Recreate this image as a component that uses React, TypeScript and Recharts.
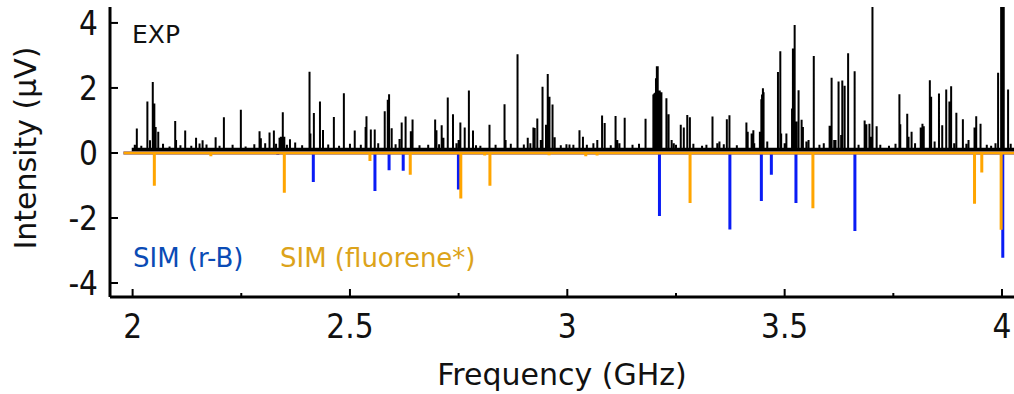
import { LineChart, Line, XAxis, YAxis, Label } from "recharts";

// experimental spectrum: [frequency GHz, intensity uV]
const expPeaks: [number, number][] = [
  [2.0097, 0.75], [2.034, 1.58], [2.04, 0.39], [2.0464, 2.18], [2.05, 1.52], [2.053, 0.8],
  [2.059, 0.65], [2.098, 0.98], [2.1, 0.4], [2.121, 0.69], [2.146, 0.47], [2.154, 0.29],
  [2.161, 0.39], [2.191, 0.48], [2.21, 1.1], [2.249, 1.33], [2.292, 0.67], [2.295, 0.45],
  [2.315, 0.63], [2.325, 0.69], [2.338, 0.47], [2.341, 0.5], [2.3455, 1.25], [2.349, 0.5],
  [2.362, 0.42], [2.374, 0.32], [2.407, 2.5], [2.409, 0.6], [2.417, 1.23], [2.431, 1.58],
  [2.438, 0.71], [2.463, 1.11], [2.486, 1.84], [2.511, 0.69], [2.536, 0.8], [2.538, 1.13],
  [2.548, 0.72], [2.557, 0.72], [2.58, 1.28], [2.587, 1.64], [2.59, 1.81], [2.596, 0.76],
  [2.614, 0.43], [2.619, 0.94], [2.628, 1.12], [2.64, 0.67], [2.644, 1.03], [2.696, 1.03],
  [2.699, 0.7], [2.711, 0.85], [2.715, 0.47], [2.725, 1.71], [2.737, 1.19], [2.75, 0.4],
  [2.754, 0.94], [2.764, 0.78], [2.7736, 1.92], [2.783, 0.69], [2.821, 0.87], [2.8556, 1.5],
  [2.858, 0.4], [2.8855, 3.04], [2.909, 0.47], [2.922, 0.78], [2.925, 0.77], [2.931, 1.06],
  [2.939, 0.4], [2.943, 2.04], [2.951, 0.87], [2.955, 2.43], [2.959, 1.73], [2.966, 1.49],
  [2.971, 0.48], [2.998, 0.27], [3.014, 0.25], [3.028, 0.7], [3.036, 0.5], [3.069, 0.4],
  [3.08, 1.15], [3.086, 0.92], [3.111, 1.14], [3.115, 0.4], [3.132, 1.08], [3.18, 1.05],
  [3.198, 1.8], [3.2, 1.83], [3.202, 1.85], [3.204, 2.3], [3.206, 2.67], [3.208, 2.67],
  [3.21, 1.9], [3.2126, 1.92], [3.2145, 1.85], [3.2165, 1.87], [3.228, 1.68], [3.233, 1.19],
  [3.24, 0.4], [3.261, 0.87], [3.268, 0.78], [3.276, 1.17], [3.282, 1.1], [3.334, 1.12],
  [3.35, 0.35], [3.367, 1.04], [3.373, 1.16], [3.412, 0.94], [3.415, 0.65], [3.424, 0.6],
  [3.428, 0.7], [3.443, 0.65], [3.4464, 1.65], [3.448, 1.8], [3.45, 1.99], [3.4515, 1.87],
  [3.4846, 2.49], [3.49, 3.13], [3.492, 0.6], [3.504, 0.6], [3.517, 1.37], [3.519, 3.21],
  [3.523, 3.94], [3.527, 0.97], [3.532, 1.93], [3.539, 1.02], [3.542, 0.8], [3.555, 0.4],
  [3.567, 2.98], [3.6034, 0.84], [3.608, 2.31], [3.614, 0.4], [3.624, 2.2], [3.63, 0.55],
  [3.6326, 2.23], [3.638, 2.07], [3.646, 3.07], [3.661, 2.51], [3.684, 1.0], [3.688, 0.88],
  [3.695, 0.9], [3.699, 0.5], [3.702, 5.0], [3.7116, 0.82], [3.764, 1.81], [3.766, 0.88],
  [3.782, 1.21], [3.785, 0.5], [3.792, 0.65], [3.813, 0.78], [3.817, 0.9], [3.82, 0.82],
  [3.834, 2.24], [3.837, 1.73], [3.855, 1.83], [3.8625, 0.85], [3.8717, 1.95], [3.879, 1.58],
  [3.883, 2.05], [3.895, 1.24], [3.91, 1.04], [3.923, 0.4], [3.9368, 0.78], [3.9407, 1.13],
  [3.9506, 0.9], [3.991, 2.47], [3.998, 5.0], [4.0005, 5.0], [4.004, 5.0], [4.014, 1.95],
];

// small baseline fuzz of the experimental trace
const expNoise: [number, number][] = [
  [2.005, 0.25], [2.02, 0.22], [2.07, 0.28], [2.085, 0.2], [2.11, 0.24], [2.135, 0.22],
  [2.17, 0.26], [2.2, 0.22], [2.23, 0.25], [2.26, 0.2], [2.28, 0.27], [2.305, 0.3],
  [2.33, 0.28], [2.355, 0.25], [2.39, 0.24], [2.45, 0.26], [2.475, 0.22], [2.5, 0.28],
  [2.525, 0.25], [2.565, 0.3], [2.605, 0.27], [2.66, 0.24], [2.68, 0.25], [2.705, 0.27],
  [2.745, 0.3], [2.79, 0.24], [2.8, 0.22], [2.835, 0.25], [2.87, 0.28], [2.9, 0.26],
  [2.915, 0.3], [2.985, 0.24], [3.005, 0.26], [3.045, 0.25], [3.06, 0.3], [3.1, 0.24],
  [3.12, 0.3], [3.15, 0.25], [3.165, 0.28], [3.245, 0.3], [3.25, 0.25], [3.29, 0.28],
  [3.31, 0.22], [3.32, 0.25], [3.345, 0.3], [3.36, 0.27], [3.39, 0.24], [3.43, 0.3],
  [3.46, 0.35], [3.5, 0.3], [3.55, 0.35], [3.58, 0.25], [3.59, 0.3], [3.617, 0.4],
  [3.67, 0.25], [3.72, 0.25], [3.74, 0.22], [3.755, 0.28], [3.8, 0.3], [3.845, 0.35],
  [3.89, 0.3], [3.918, 0.28], [3.965, 0.25], [3.975, 0.22], [3.985, 0.3], [4.02, 0.28],
];

const expFloor = [
  { x: 1.998, y: 0.11 },
  { x: 4.03, y: 0.11 },
];

// simulated stick spectra (negative)
const simRB: [number, number][] = [
  [2.334, -0.06], [2.4157, -0.89], [2.5575, -1.17], [2.59, -0.53], [2.6225, -0.55],
  [2.7495, -1.12], [3.0786, -0.05], [3.212, -1.94], [3.374, -2.35], [3.4464, -1.48],
  [3.4694, -0.67], [3.526, -1.54], [3.6616, -2.4], [3.895, -0.05], [4.0018, -3.22],
];

const simFluorene: [number, number][] = [
  [2.05, -1.01], [2.18, -0.1], [2.349, -1.22], [2.546, -0.25], [2.6387, -0.67],
  [2.755, -1.4], [2.81, -0.08], [2.822, -1.01], [2.958, -0.07], [3.0425, -0.1],
  [3.0685, -0.08], [3.2824, -1.54], [3.565, -1.7], [3.9368, -1.56], [3.9535, -0.6],
  [3.998, -2.36],
];

const xTicks = [2, 2.25, 2.5, 2.75, 3, 3.25, 3.5, 3.75, 4];
const yTicks = [-4, -2, 0, 2, 4];

const PLOT_LEFT = 110;
const PLOT_BOTTOM = 297;
const FONT = "'DejaVu Sans', Verdana, sans-serif";
const TICK_FONT = "'DejaVu Sans Condensed', 'DejaVu Sans', sans-serif";

function sticks(peaks: [number, number][], base: number, start?: number, end?: number) {
  const sorted = [...peaks].sort((a, b) => a[0] - b[0]);
  const pts: { x: number; y: number }[] = [];
  if (start != null) pts.push({ x: start, y: base });
  for (const [x, v] of sorted) {
    pts.push({ x, y: base }, { x, y: v }, { x, y: base });
  }
  if (end != null) pts.push({ x: end, y: base });
  return pts;
}

const expData = sticks([...expPeaks, ...expNoise], 0.11);
const rbData = sticks(simRB, 0, 1.979, 4.03);
const flData = sticks(simFluorene, 0, 1.979, 4.03);

const XTick = (props: any) => {
  const { x, payload } = props;
  const v = payload.value as number;
  const major = Math.abs(v * 2 - Math.round(v * 2)) < 1e-6;
  return (
    <g>
      <line x1={x} x2={x} y1={PLOT_BOTTOM} y2={PLOT_BOTTOM - (major ? 8 : 4)} stroke="#000" strokeWidth={2} />
      {major && (
        <text
          x={x}
          y={338}
          textAnchor="middle"
          fontSize={33}
          fontFamily={TICK_FONT}
          style={{ fontStretch: "condensed" }}
          fill="#111"
        >
          {String(v)}
        </text>
      )}
    </g>
  );
};

const YTick = (props: any) => {
  const { y, payload } = props;
  return (
    <g>
      <line x1={PLOT_LEFT} x2={PLOT_LEFT + 8} y1={y} y2={y} stroke="#000" strokeWidth={2} />
      <text
        x={98}
        y={y}
        dy={12}
        textAnchor="end"
        fontSize={33}
        fontFamily={TICK_FONT}
        style={{ fontStretch: "condensed" }}
        fill="#111"
      >
        {String(payload.value)}
      </text>
    </g>
  );
};

export default function App() {
  return (
    <div style={{ position: "absolute", left: 0, top: 0, width: 1014, height: 394, background: "#fff" }}>
      <LineChart width={1014} height={394} margin={{ top: 7, right: 0, bottom: 0, left: 0 }}>
        <XAxis
          dataKey="x"
          type="number"
          domain={[1.948, 4.0276]}
          allowDataOverflow
          ticks={xTicks}
          interval={0}
          tick={<XTick />}
          tickLine={false}
          axisLine={{ stroke: "#000", strokeWidth: 3 }}
          height={97}
        >
          <Label
            value="Frequency (GHz)"
            position="insideBottom"
            offset={9}
            style={{ fontSize: 30, fontFamily: FONT, fill: "#111" }}
          />
        </XAxis>
        <XAxis
          xAxisId="top"
          orientation="top"
          dataKey="x"
          type="number"
          domain={[1.948, 4.0276]}
          allowDataOverflow
          height={0}
          tick={false}
          tickLine={false}
          axisLine={{ stroke: "#000", strokeWidth: 3 }}
        />
        <YAxis
          type="number"
          domain={[-4.43, 4.49]}
          allowDataOverflow
          ticks={yTicks}
          interval={0}
          tick={<YTick />}
          tickLine={false}
          axisLine={{ stroke: "#000", strokeWidth: 3 }}
          width={110}
        >
          <Label
            content={() => (
              <text
                x={36}
                y={148}
                transform="rotate(-90 36 148)"
                textAnchor="middle"
                fontSize={30}
                fontFamily={FONT}
                fill="#111"
              >
                Intensity (μV)
              </text>
            )}
          />
        </YAxis>
        <Line
          data={rbData}
          dataKey="y"
          stroke="#0a1cf5"
          strokeWidth={3}
          strokeLinejoin="bevel"
          dot={false}
          activeDot={false}
          isAnimationActive={false}
        />
        <Line
          data={flData}
          dataKey="y"
          stroke="#ffa500"
          strokeWidth={3}
          strokeLinejoin="bevel"
          dot={false}
          activeDot={false}
          isAnimationActive={false}
        />
        <Line
          data={expFloor}
          dataKey="y"
          stroke="#000"
          strokeWidth={3.5}
          dot={false}
          activeDot={false}
          isAnimationActive={false}
        />
        <Line
          data={expData}
          dataKey="y"
          stroke="#000"
          strokeWidth={2}
          strokeLinejoin="bevel"
          dot={false}
          activeDot={false}
          isAnimationActive={false}
        />
      </LineChart>
      <div style={{ position: "absolute", left: 132, top: 20, fontSize: 25, fontFamily: FONT, color: "#111" }}>
        EXP
      </div>
      <div style={{ position: "absolute", left: 133, top: 243, fontSize: 26, fontFamily: FONT, color: "#0a4bb5" }}>
        SIM (r-B)
      </div>
      <div style={{ position: "absolute", left: 280, top: 243, fontSize: 26, fontFamily: FONT, color: "#dca31a" }}>
        SIM (fluorene*)
      </div>
    </div>
  );
}
